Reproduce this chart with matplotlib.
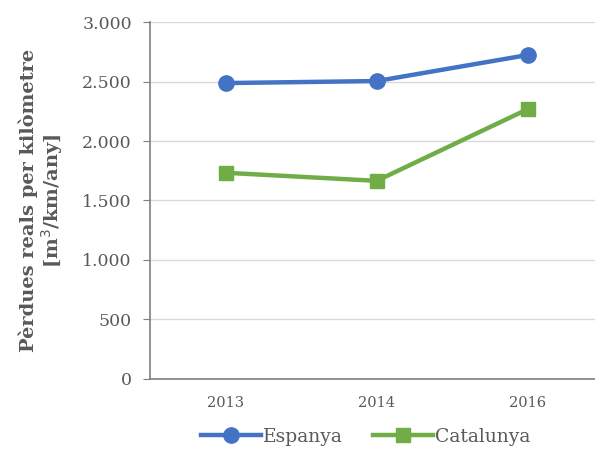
import matplotlib
matplotlib.use("Agg")
import matplotlib.pyplot as plt
from matplotlib.ticker import FuncFormatter

years = ["2013", "2014", "2016"]
espanya = [2487, 2504, 2723]
catalunya = [1733, 1665, 2268]

plt.rcParams['font.family'] = ['DejaVu Serif']

fig = plt.figure(figsize=(5.95, 4.5), dpi=100)
ax = fig.add_axes([0.252, 0.158, 0.762, 0.793])

x = range(len(years))
ax.plot(x, espanya, color='#4472C4', lw=3.2, marker='o', ms=11, label='Espanya', zorder=3)
ax.plot(x, catalunya, color='#70AD47', lw=3.2, marker='s', ms=10.5, label='Catalunya', zorder=3)

ax.set_xlim(-0.5, 2.5)
ax.set_ylim(0, 3000)
ax.set_yticks(range(0, 3001, 500))
ax.yaxis.set_major_formatter(FuncFormatter(lambda v, p: f"{int(v):,}".replace(",", ".")))
ax.set_xticks(list(x))
ax.set_xticklabels(years)

ax.grid(axis='y', color='#d9d9d9', lw=1)
ax.set_axisbelow(True)
for s in ['top', 'right']:
    ax.spines[s].set_visible(False)
for s in ['left', 'bottom']:
    ax.spines[s].set_color('#7f7f7f')
    ax.spines[s].set_linewidth(1.2)
ax.tick_params(axis='y', labelsize=12.5, length=5, color='#7f7f7f', labelcolor='#595959', pad=8)
ax.tick_params(axis='x', length=0, labelsize=10.5, labelcolor='#595959', pad=12)

ax.set_ylabel("Pèrdues reals per kilòmetre\n[m$^3$/km/any]", fontsize=14, fontweight='bold',
              color='#595959', labelpad=12, linespacing=1.1)

fig.legend(loc='center', bbox_to_anchor=(0.615, 0.03), ncol=2, frameon=False,
           fontsize=13.5, handlelength=3.2, columnspacing=1.6, handletextpad=0.1,
           labelcolor='#595959')

fig.savefig("out.png", dpi=100)
